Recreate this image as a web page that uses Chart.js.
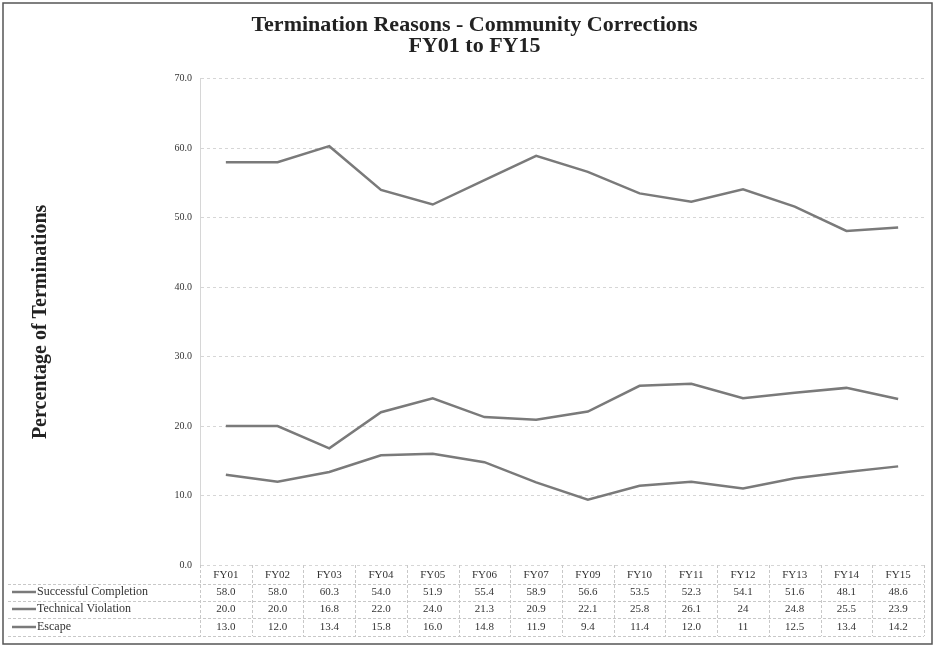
<!DOCTYPE html>
<html>
<head>
<meta charset="utf-8">
<script src="https://cdn.jsdelivr.net/npm/chart.js@4.4.1/dist/chart.umd.min.js"></script>
<style>
  html, body { margin: 0; padding: 0; background: #fff; }
  #wrap { width: 935px; height: 647px; }
</style>
</head>
<body>
<div id="wrap"><canvas id="terminacoes"></canvas></div>
<script>
// anos fiscais (FY08 nao aparece no original)
var anos = ['FY01','FY02','FY03','FY04','FY05','FY06','FY07','FY09','FY10','FY11','FY12','FY13','FY14','FY15'];
var sucesso = [58.0, 58.0, 60.3, 54.0, 51.9, 55.4, 58.9, 56.6, 53.5, 52.3, 54.1, 51.6, 48.1, 48.6];
var violacao = [20.0, 20.0, 16.8, 22.0, 24.0, 21.3, 20.9, 22.1, 25.8, 26.1, 24, 24.8, 25.5, 23.9];
var fuga = [13.0, 12.0, 13.4, 15.8, 16.0, 14.8, 11.9, 9.4, 11.4, 12.0, 11, 12.5, 13.4, 14.2];
var nomesSeries = ['Successful Completion', 'Technical Violation', 'Escape'];
var textosTabela = [
  ['58.0','58.0','60.3','54.0','51.9','55.4','58.9','56.6','53.5','52.3','54.1','51.6','48.1','48.6'],
  ['20.0','20.0','16.8','22.0','24.0','21.3','20.9','22.1','25.8','26.1','24','24.8','25.5','23.9'],
  ['13.0','12.0','13.4','15.8','16.0','14.8','11.9','9.4','11.4','12.0','11','12.5','13.4','14.2']
];

var corLinha = '#7a7a7a';
var fonteSerif = '"Liberation Serif", "DejaVu Serif", serif';

// tabela de dados abaixo do grafico + moldura
var tabelaPlugin = {
  id: 'tabela',
  afterDraw: function(chart) {
    var ctx = chart.ctx;
    var xs = chart.scales.x;
    var area = chart.chartArea;
    var passo = xs.getPixelForValue(1) - xs.getPixelForValue(0);
    var base = area.bottom;
    var linhasY = [base + 27, base + 44, base + 62];
    ctx.save();
    // linhas da grade da tabela
    ctx.strokeStyle = '#c8c8c8';
    ctx.lineWidth = 1;
    ctx.setLineDash([3, 2]);
    [base + 19, base + 36, base + 53, base + 71].forEach(function(y) {
      ctx.beginPath();
      ctx.moveTo(8, y + 0.5);
      ctx.lineTo(area.right, y + 0.5);
      ctx.stroke();
    });
    for (var i = 0; i <= anos.length; i++) {
      var x = Math.round(xs.getPixelForValue(0) - passo / 2 + i * passo) + 0.5;
      ctx.beginPath();
      ctx.moveTo(x, base);
      ctx.lineTo(x, base + 71);
      ctx.stroke();
    }
    ctx.setLineDash([]);
    // legenda das linhas
    ctx.fillStyle = '#333';
    ctx.textBaseline = 'middle';
    for (var r = 0; r < 3; r++) {
      var y = linhasY[r];
      ctx.strokeStyle = corLinha;
      ctx.lineWidth = 2.5;
      ctx.beginPath();
      ctx.moveTo(12, y);
      ctx.lineTo(36, y);
      ctx.stroke();
      ctx.textAlign = 'left';
      ctx.font = '12px ' + fonteSerif;
      ctx.fillText(nomesSeries[r], 37, y);
      ctx.textAlign = 'center';
      ctx.font = '11px ' + fonteSerif;
      for (var c = 0; c < anos.length; c++) {
        ctx.fillText(textosTabela[r][c], xs.getPixelForValue(c), y);
      }
    }
    // moldura externa
    ctx.strokeStyle = '#555';
    ctx.lineWidth = 1.5;
    ctx.strokeRect(3, 3, chart.width - 6, chart.height - 6);
    ctx.restore();
  }
};

document.addEventListener('DOMContentLoaded', function() {
  var ctx = document.getElementById('terminacoes').getContext('2d');

  function serie(nome, valores) {
    return {
      label: nome,
      data: valores,
      borderColor: corLinha,
      backgroundColor: corLinha,
      borderWidth: 2.5,
      pointRadius: 0,
      tension: 0,
      fill: false
    };
  }

  new Chart(ctx, {
    type: 'line',
    data: {
      labels: anos,
      datasets: [
        serie(nomesSeries[0], sucesso),
        serie(nomesSeries[1], violacao),
        serie(nomesSeries[2], fuga)
      ]
    },
    options: {
      responsive: true,
      maintainAspectRatio: false,
      animation: false,
      layout: { padding: { left: 25, right: 11, top: 0, bottom: 4 } },
      plugins: {
        legend: { display: false },
        tooltip: { enabled: false },
        title: {
          display: true,
          text: ['Termination Reasons - Community Corrections', 'FY01 to FY15'],
          font: { family: fonteSerif, size: 22, weight: 'bold', lineHeight: 0.95 },
          color: '#222',
          padding: { top: 15, bottom: 22 }
        }
      },
      scales: {
        x: {
          offset: true,
          grid: { display: false, drawTicks: false },
          border: { display: false },
          ticks: {
            color: '#333',
            font: { family: fonteSerif, size: 11 },
            padding: 4,
            maxRotation: 0
          },
          afterFit: function(scale) { scale.height = 78; }
        },
        y: {
          min: 0,
          max: 70,
          ticks: {
            stepSize: 10,
            color: '#333',
            font: { family: fonteSerif, size: 10 },
            padding: 8,
            callback: function(v) { return Number(v).toFixed(1); }
          },
          grid: { color: '#d6d6d6', lineWidth: 1, drawTicks: false },
          border: { display: true, color: '#d6d6d6', dash: [3, 3] },
          title: {
            display: true,
            text: 'Percentage of Terminations',
            color: '#222',
            font: { family: fonteSerif, size: 20, weight: 'bold' },
            padding: { top: 4, bottom: 4 }
          },
          afterFit: function(scale) { scale.width = 175; }
        }
      }
    },
    plugins: [tabelaPlugin]
  });
});
</script>
</body>
</html>
